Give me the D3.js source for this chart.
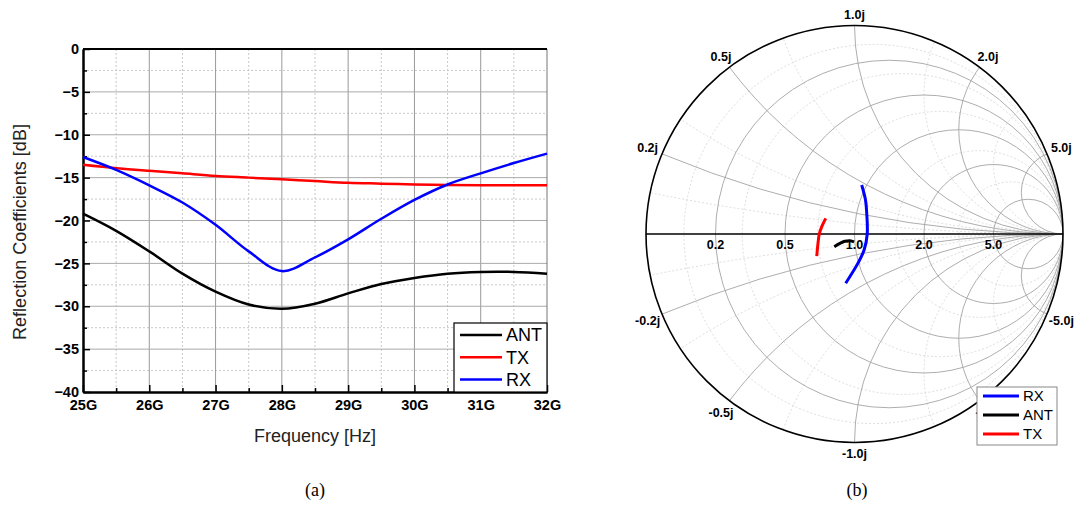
<!DOCTYPE html>
<html>
<head>
<meta charset="utf-8">
<script src="https://cdn.jsdelivr.net/npm/d3@7"></script>
<style>
  body { margin: 0; background: #fff; }
  svg { display: block; font-family: "Liberation Sans", Arial, sans-serif; }
</style>
</head>
<body>
<svg id="chart" width="1080" height="505"></svg>
<script>
// Reflection coefficient (dB) vs frequency (GHz)
const freq = [25, 25.5, 26, 26.5, 27, 27.5, 28, 28.5, 29, 29.5, 30, 30.5, 31, 31.5, 32];
const antDb = [-19.2, -21.2, -23.6, -26.2, -28.3, -29.8, -30.3, -29.7, -28.5, -27.4, -26.7, -26.2, -26.0, -26.0, -26.2];
const txDb = [-13.5, -13.9, -14.2, -14.5, -14.8, -15.0, -15.2, -15.4, -15.6, -15.7, -15.8, -15.85, -15.9, -15.9, -15.9];
const rxDb = [-12.6, -14.1, -15.9, -17.9, -20.5, -23.6, -25.9, -24.3, -22.2, -19.8, -17.6, -15.8, -14.5, -13.3, -12.2];
const xTicks = [25, 26, 27, 28, 29, 30, 31, 32];
const yTicks = [0, -5, -10, -15, -20, -25, -30, -35, -40];

// Smith chart traces (reflection coefficient, real / imaginary)
const rxRe = [0.0345, 0.0528, 0.0585, 0.061, 0.046, 0.016, -0.0422];
const rxIm = [0.235, 0.163, 0.101, 0, -0.077, -0.141, -0.236];
const antRe = [-0.097, -0.070, -0.046, -0.022, -0.002];
const antIm = [-0.061, -0.045, -0.035, -0.032, -0.038];
const txRe = [-0.138, -0.156, -0.169, -0.176, -0.181];
const txIm = [0.075, 0.038, 0, -0.053, -0.106];
const rMajor = [0.2, 0.5, 1, 2, 5];
const xMajor = [0.2, 0.5, 1, 2, 5];
const rMinor = [0.1, 0.3, 0.7, 1.5, 3];
const xMinor = [0.1, 0.3, 0.7, 1.5, 3];

const svg = d3.select("#chart");

//// Left: reflection coefficients
(function() {
  const left = 83, right = 547, top = 49, bottom = 392;
  const x = d3.scaleLinear().domain([25, 32]).range([left, right]);
  const y = d3.scaleLinear().domain([-40, 0]).range([bottom, top]);
  const g = svg.append("g");

  const minorX = d3.range(25.5, 32, 1);
  const minorY = d3.range(-37.5, 0, 5);

  // grid
  g.append("g").selectAll("line").data(minorX).join("line")
    .attr("x1", d => x(d)).attr("x2", d => x(d)).attr("y1", top).attr("y2", bottom)
    .attr("stroke", "#c8c8c8").attr("stroke-dasharray", "2,2");
  g.append("g").selectAll("line").data(minorY).join("line")
    .attr("y1", d => y(d)).attr("y2", d => y(d)).attr("x1", left).attr("x2", right)
    .attr("stroke", "#c8c8c8").attr("stroke-dasharray", "2,2");
  g.append("g").selectAll("line").data(xTicks.slice(1, -1)).join("line")
    .attr("x1", d => x(d)).attr("x2", d => x(d)).attr("y1", top).attr("y2", bottom)
    .attr("stroke", "#999");
  g.append("g").selectAll("line").data(yTicks.slice(1, -1)).join("line")
    .attr("y1", d => y(d)).attr("y2", d => y(d)).attr("x1", left).attr("x2", right)
    .attr("stroke", "#aaa");

  // frame
  g.append("line").attr("x1", right).attr("x2", right).attr("y1", top).attr("y2", bottom)
    .attr("stroke", "#777");
  g.append("line").attr("x1", left).attr("x2", right).attr("y1", top).attr("y2", top)
    .attr("stroke", "#000").attr("stroke-width", 2);

  // axes
  const styleAxis = a => {
    a.select(".domain").attr("stroke", "#000").attr("stroke-width", 2);
    a.selectAll(".tick line").attr("stroke", "#000").attr("stroke-width", 1.5);
    a.selectAll("text").attr("font-size", 14.5).attr("font-weight", "bold").attr("fill", "#000");
  };
  g.append("g").attr("transform", `translate(0,${bottom})`)
    .call(d3.axisBottom(x).tickValues(minorX).tickSize(-4).tickFormat("").tickSizeOuter(0))
    .call(styleAxis);
  g.append("g").attr("transform", `translate(${left},0)`)
    .call(d3.axisLeft(y).tickValues(minorY).tickSize(-4).tickFormat("").tickSizeOuter(0))
    .call(styleAxis);
  g.append("g").attr("transform", `translate(0,${bottom})`)
    .call(d3.axisBottom(x).tickValues(xTicks).tickSize(-7).tickPadding(8).tickSizeOuter(0)
      .tickFormat(d => d + "G"))
    .call(styleAxis);
  g.append("g").attr("transform", `translate(${left},0)`)
    .call(d3.axisLeft(y).tickValues(yTicks).tickSize(-7).tickPadding(4).tickSizeOuter(0))
    .call(styleAxis);

  // titles
  g.append("text").attr("x", (left + right) / 2).attr("y", 442)
    .attr("text-anchor", "middle").attr("font-size", 18).attr("fill", "#222")
    .text("Frequency [Hz]");
  g.append("text").attr("transform", `translate(26,232) rotate(-90)`)
    .attr("text-anchor", "middle").attr("font-size", 18).attr("fill", "#222")
    .text("Reflection Coefficients [dB]");

  // lines
  const series = [
    { key: "ANT", color: "#000", values: antDb },
    { key: "TX", color: "#ff0000", values: txDb },
    { key: "RX", color: "#0000ff", values: rxDb }
  ];
  const line = d3.line()
    .x((d, i) => x(freq[i]))
    .y(d => y(d))
    .curve(d3.curveCatmullRom);
  g.append("g").selectAll("path").data(series).join("path")
    .attr("fill", "none")
    .attr("stroke", d => d.color)
    .attr("stroke-width", 2.5)
    .attr("d", d => line(d.values));

  // legend
  const lg = g.append("g");
  lg.append("rect").attr("x", 454).attr("y", 323).attr("width", right - 454).attr("height", bottom - 323)
    .attr("fill", "#fff").attr("stroke", "#000").attr("stroke-width", 1.2);
  const item = lg.selectAll("g").data(series).join("g")
    .attr("transform", (d, i) => `translate(0,${335 + i * 22.3})`);
  item.append("line").attr("x1", 460).attr("x2", 502)
    .attr("stroke", d => d.color).attr("stroke-width", 2.5);
  item.append("text").attr("x", 506).attr("dy", "0.36em").attr("font-size", 18)
    .text(d => d.key);

  svg.append("text").attr("x", 315).attr("y", 496).attr("text-anchor", "middle")
    .attr("font-family", "Liberation Serif, Times New Roman, serif").attr("font-size", 18)
    .text("(a)");
})();

//// Right: Smith chart
(function() {
  const cx = 854.5, cy = 234, R = 208.5;
  const sx = d3.scaleLinear().domain([-1, 1]).range([cx - R, cx + R]);
  const sy = d3.scaleLinear().domain([-1, 1]).range([cy + R, cy - R]);
  const k = R; // pixels per unit of reflection coefficient

  svg.append("clipPath").attr("id", "unit")
    .append("circle").attr("cx", sx(0)).attr("cy", sy(0)).attr("r", k);

  const g = svg.append("g");
  const grid = g.append("g").attr("clip-path", "url(#unit)").attr("fill", "none");

  const rCircle = r => ({ c: [r / (1 + r), 0], rad: 1 / (1 + r) });
  const xCircle = v => ({ c: [1, 1 / v], rad: 1 / Math.abs(v) });

  const minorCircles = [
    ...rMinor.map(rCircle),
    ...xMinor.flatMap(v => [xCircle(v), xCircle(-v)])
  ];
  const majorCircles = [
    ...rMajor.map(rCircle),
    ...xMajor.flatMap(v => [xCircle(v), xCircle(-v)])
  ];
  grid.append("g").selectAll("circle").data(minorCircles).join("circle")
    .attr("cx", d => sx(d.c[0])).attr("cy", d => sy(d.c[1])).attr("r", d => d.rad * k)
    .attr("stroke", "#d4d4d4").attr("stroke-width", 0.8).attr("stroke-dasharray", "2,2");
  grid.append("g").selectAll("circle").data(majorCircles).join("circle")
    .attr("cx", d => sx(d.c[0])).attr("cy", d => sy(d.c[1])).attr("r", d => d.rad * k)
    .attr("stroke", "#a4a4a4").attr("stroke-width", 0.9);

  // outer circle and real axis
  g.append("circle").attr("cx", sx(0)).attr("cy", sy(0)).attr("r", k)
    .attr("fill", "none").attr("stroke", "#000").attr("stroke-width", 1.6);
  g.append("line").attr("x1", sx(-1)).attr("x2", sx(1)).attr("y1", sy(0)).attr("y2", sy(0))
    .attr("stroke", "#000").attr("stroke-width", 1.6);

  // traces
  const series = [
    { key: "RX", color: "#0000ff", re: rxRe, im: rxIm },
    { key: "ANT", color: "#000", re: antRe, im: antIm },
    { key: "TX", color: "#ff0000", re: txRe, im: txIm }
  ];
  const line = d3.line()
    .x(d => sx(d[0])).y(d => sy(d[1]))
    .curve(d3.curveCatmullRom);
  g.append("g").selectAll("path").data(series).join("path")
    .attr("fill", "none").attr("stroke", d => d.color).attr("stroke-width", 3)
    .attr("d", d => line(d.re.map((v, i) => [v, d.im[i]])));

  // resistance labels
  g.append("g").selectAll("text").data(rMajor).join("text")
    .attr("x", d => sx((d - 1) / (d + 1)))
    .attr("y", sy(0) + 10)
    .attr("dy", "0.36em")
    .attr("text-anchor", "middle")
    .attr("font-size", 12.5).attr("font-weight", "bold")
    .text(d => d.toFixed(1));

  // reactance labels
  const xLabels = xMajor.flatMap(v => [v, -v]);
  g.append("g").selectAll("text").data(xLabels).join("text")
    .each(function(v) {
      const a = Math.sign(v) * (Math.PI - 2 * Math.atan(Math.abs(v)));
      const c = Math.cos(a), s = Math.sin(a);
      const off = 11 + 5 * Math.abs(c);
      d3.select(this)
        .attr("x", sx(c) + off * c)
        .attr("y", sy(s) - off * s);
    })
    .attr("dy", "0.36em")
    .attr("text-anchor", "middle")
    .attr("font-size", 12.5).attr("font-weight", "bold")
    .text(v => v.toFixed(1) + "j");

  // legend
  const lg = g.append("g");
  lg.append("rect").attr("x", 977).attr("y", 387).attr("width", 80).attr("height", 58)
    .attr("fill", "#fff").attr("stroke", "#888").attr("stroke-width", 1);
  const item = lg.selectAll("g").data(series).join("g")
    .attr("transform", (d, i) => `translate(0,${396 + i * 19})`);
  item.append("line").attr("x1", 983).attr("x2", 1019)
    .attr("stroke", d => d.color).attr("stroke-width", 3);
  item.append("text").attr("x", 1023).attr("dy", "0.36em").attr("font-size", 15)
    .text(d => d.key);

  svg.append("text").attr("x", 857).attr("y", 496).attr("text-anchor", "middle")
    .attr("font-family", "Liberation Serif, Times New Roman, serif").attr("font-size", 18)
    .text("(b)");
})();
</script>
</body>
</html>
